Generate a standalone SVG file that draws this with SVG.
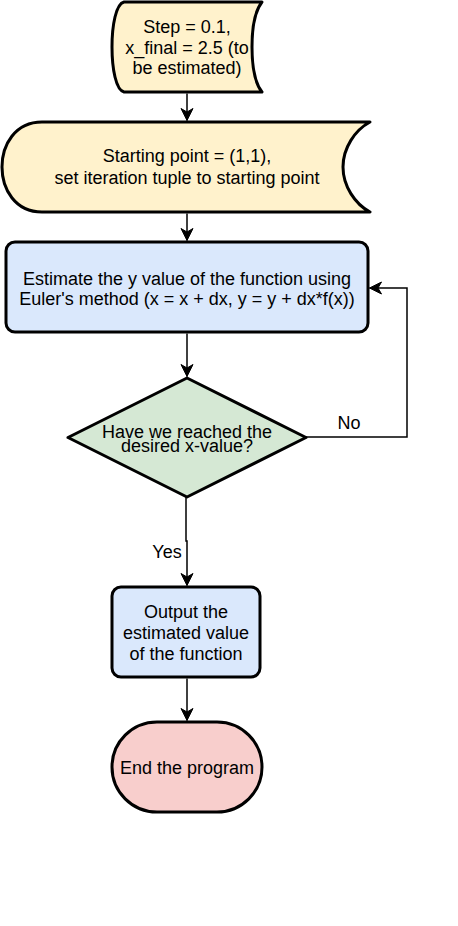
<svg xmlns="http://www.w3.org/2000/svg" width="458" height="926" viewBox="0 0 458 926">
<style>
.shape{stroke:#000;stroke-width:3;stroke-linejoin:round}
.yellow{fill:#fff2cc}
.blue{fill:#dae8fc}
.green{fill:#d5e8d4}
.red{fill:#f8cecc}
.t{font-family:"Liberation Sans",Arial,Helvetica,sans-serif;font-size:18px;fill:#000;text-anchor:middle}
.edge{fill:none;stroke:#000;stroke-width:1.5}
</style>
<defs>
<marker id="arr" viewBox="-13 -7 14 14" refX="0" refY="0" markerWidth="14" markerHeight="14" markerUnits="userSpaceOnUse" orient="auto">
<path d="M0,0 L-12,-6 L-8.5,0 L-12,6 Z" fill="#000" stroke="#000" stroke-width="1"/>
</marker>
</defs>
<rect x="0" y="0" width="458" height="926" fill="#fff"/>
<g id="edges">
<path class="edge" d="M187,93.5 V120.5" marker-end="url(#arr)"/>
<path class="edge" d="M187,213.5 V240.5" marker-end="url(#arr)"/>
<path class="edge" d="M187,333.5 V376.5" marker-end="url(#arr)"/>
<path class="edge" d="M306,437 H407 V288 H369.5" marker-end="url(#arr)"/>
<path class="edge" d="M186,497 V541 H187 V585.5" marker-end="url(#arr)"/>
<path class="edge" d="M187,678.5 V720.5" marker-end="url(#arr)"/>
<text class="t" x="349" y="429">No</text>
<text class="t" x="167" y="558">Yes</text>
</g>
<g id="n1">
<path class="shape yellow" d="M124,2 H262 C254,12 252,30 252,47 C252,64 254,82 262,92 H124 C116,90 112,69 112,47 C112,25 116,4 124,2 Z"/>
<text class="t" x="187" y="33">Step = 0.1,</text>
<text class="t" x="187" y="53.5">x_final = 2.5 (to</text>
<text class="t" x="187" y="74">be estimated)</text>
</g>
<g id="n2">
<path class="shape yellow" d="M42,122 H370 C355,130 343,148 343,167 C343,186 355,204 370,212 H42 C15,212 2,189 2,167 C2,145 15,122 42,122 Z"/>
<text class="t" x="187" y="161.5">Starting point = (1,1),</text>
<text class="t" x="187" y="183.5">set iteration tuple to starting point</text>
</g>
<g id="n3">
<rect class="shape blue" x="6" y="242" width="362" height="90" rx="9" ry="9"/>
<text class="t" x="187" y="284.5">Estimate the y value of the function using</text>
<text class="t" x="187" y="305">Euler's method (x = x + dx, y = y + dx*f(x))</text>
</g>
<g id="n4">
<path class="shape green" d="M187,378 L306,437.5 L187,497 L68,437.5 Z"/>
<text class="t" x="187" y="438">Have we reached the</text>
<text class="t" x="187" y="452">desired x-value?</text>
</g>
<g id="n5">
<rect class="shape blue" x="112" y="587" width="148" height="90" rx="9" ry="9"/>
<text class="t" x="186" y="618">Output the</text>
<text class="t" x="186" y="639">estimated value</text>
<text class="t" x="186" y="659.5">of the function</text>
</g>
<g id="n6">
<rect class="shape red" x="112" y="722" width="150" height="90" rx="45" ry="45"/>
<text class="t" x="187" y="774">End the program</text>
</g>
</svg>
